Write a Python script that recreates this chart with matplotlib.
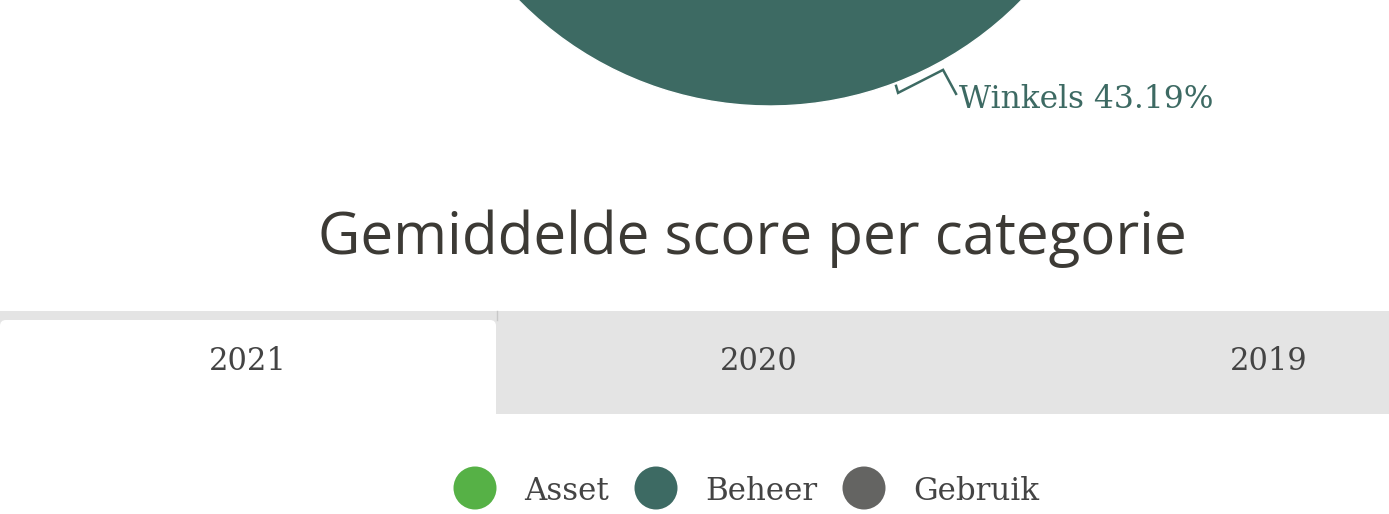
import numpy as np
import matplotlib.pyplot as plt
from matplotlib.patches import FancyBboxPatch, Rectangle, Circle

# data
pie_labels = ['Winkels', 'Overig']
pie_values = [43.19, 56.81]
pie_colors = ['#3d6a63', '#56b146']
title_text = 'Gemiddelde score per categorie'
tab_labels = ['2021', '2020', '2019']
legend_labels = ['Asset', 'Beheer', 'Gebruik']
legend_colors = ['#56b146', '#3d6a63', '#646462']

W, H = 1389, 514
fig = plt.figure(figsize=(W / 100, H / 100), dpi=100)
ax = fig.add_axes([0, 0, 1, 1])

# pie (only the bottom of it is on the page)
cx, cy, r = 770, -246, 352
start = -8.54
ax.pie(pie_values, colors=pie_colors, center=(cx, cy), radius=r,
       startangle=start, counterclock=True,
       wedgeprops=dict(edgecolor='white', linewidth=1))

# label connector for Winkels, starting just outside the slice edge
frac = pie_values[0] / sum(pie_values)
mid = np.deg2rad(start + 360 * frac / 2)
ex, ey = cx + (r + 3) * np.cos(mid), cy + (r + 3) * np.sin(mid)
lx = [ex, ex + 2, ex + 47, ex + 60]
ly = [ey, ey + 7, ey - 16, ey + 8]
ax.plot(lx, ly, color=pie_colors[0], lw=1.8, solid_joinstyle='miter')
ax.text(ex + 63, ey + 22, '%s %.2f%%' % (pie_labels[0], pie_values[0]),
        color=pie_colors[0], fontsize=22.5, family='DejaVu Serif',
        ha='left', va='baseline')

# title
ax.text(752, 254, title_text, fontsize=42, family='Open Sans',
        color='#3c3a35', ha='center', va='baseline')

# tabs
ax.add_patch(Rectangle((0, 311), W, 103, facecolor='#e4e4e4', edgecolor='none'))
ax.add_patch(FancyBboxPatch((0, 320), 496, 110,
                            boxstyle='round,pad=0,rounding_size=6',
                            facecolor='white', edgecolor='none'))
ax.plot([496.5, 496.5], [311, 320], color='#c8c8c8', lw=1)
tab_x = [248, 759, 1269]
for x, lab in zip(tab_x, tab_labels):
    ax.text(x, 361, lab, fontsize=22, family='DejaVu Serif', color='#444444',
            ha='center', va='center')

# legend
circ_x = [475, 656, 864]
for x, lab, c in zip(circ_x, legend_labels, legend_colors):
    ax.add_patch(Circle((x, 488), 21.5, facecolor=c, edgecolor='none'))
    ax.text(x + 49, 500, lab, fontsize=22.2, family='DejaVu Serif',
            color='#444444', ha='left', va='baseline')

ax.set_xlim(0, W)
ax.set_ylim(H, 0)
ax.set_aspect('auto')
ax.axis('off')
fig.savefig('out.png', dpi=100, facecolor='white')
